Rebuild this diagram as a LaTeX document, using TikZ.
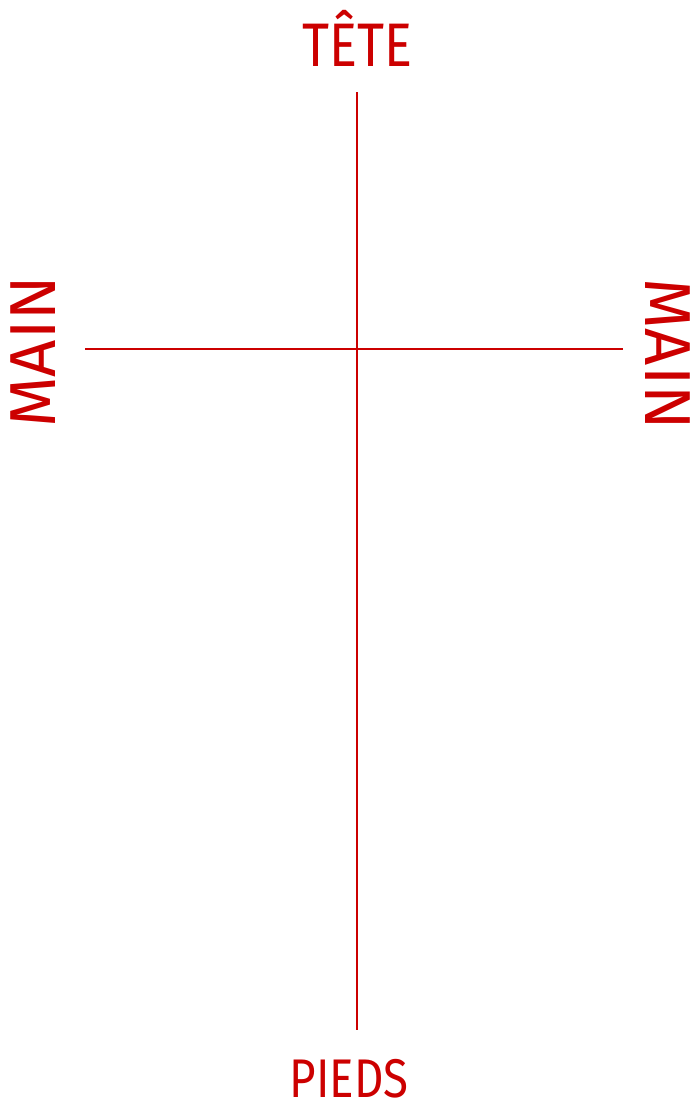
\documentclass[tikz,border=0pt]{standalone}
\usepackage{fontspec}
\setmainfont{Fira Sans}
\usetikzlibrary{positioning}
\definecolor{crossred}{HTML}{CC0000}

\begin{document}
\begin{tikzpicture}[
    x=0.02cm, y=-0.02cm,
    label/.style={text=crossred, inner sep=0pt, font=\fontsize{35}{40}\selectfont},
    bar/.style={draw=crossred, line width=1.3pt}
]
\useasboundingbox (0,0) rectangle (694,1106);

% libelles
\node[label, anchor=base, xscale=0.85] (tete) at (357,66) {TÊTE};
\node[label, anchor=base, xscale=0.84, font=\fontsize{31}{36}\selectfont] (pieds) at (349,1097) {PIEDS};
\node[label, anchor=base, rotate=90, font=\fontsize{37}{42}\selectfont] (mainL) at (55,352) {MAIN};
\node[label, anchor=base, rotate=-90, font=\fontsize{37}{42}\selectfont] (mainR) at (645,354) {MAIN};

% croix
\coordinate (haut) at (357,92);
\coordinate (bas) at (357,1030);
\coordinate (gauche) at (85,349);
\coordinate (droite) at (623,349);

\draw[bar] (haut) -- (bas);
\draw[bar] (gauche) -- (droite);

\end{tikzpicture}
\end{document}
